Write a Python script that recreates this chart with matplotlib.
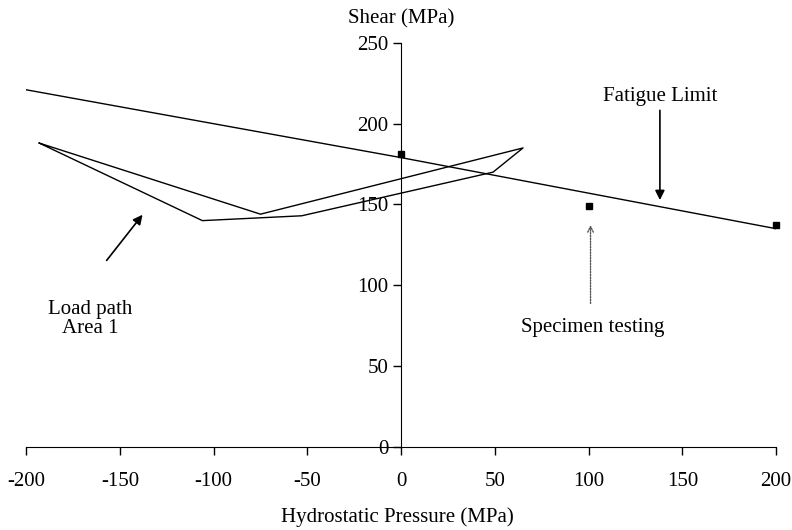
import matplotlib.pyplot as plt

plt.rcParams['font.family'] = ['Liberation Serif', 'DejaVu Serif']
plt.rcParams['axes.unicode_minus'] = False

# fatigue limit line
fatigue_x = [-200, 0, 200]
fatigue_y = [221, 179, 135]

# load path (closed loop)
path_x = [-193, -106, -53, 49, 65, -75, -193]
path_y = [188, 140, 143, 170, 185, 144, 188]

# specimen testing points
spec_x = [0, 100, 200]
spec_y = [181, 149, 137]

xticks = [-200, -150, -100, -50, 0, 50, 100, 150, 200]
yticks = [0, 50, 100, 150, 200, 250]

fig = plt.figure(figsize=(7.92, 5.30), dpi=100)
ax = fig.add_axes([0.033, 0.157, 0.947, 0.762])

ax.plot(fatigue_x, fatigue_y, color='black', lw=1.0)
ax.plot(path_x, path_y, color='black', lw=1.0)
ax.plot(spec_x, spec_y, 's', color='black', ms=4, clip_on=False)

ax.set_xlim(-200, 200)
ax.set_ylim(0, 250)
ax.spines['left'].set_position(('data', 0))
ax.spines['bottom'].set_position(('data', 0))
ax.spines['top'].set_visible(False)
ax.spines['right'].set_visible(False)
ax.set_xticks(xticks)
ax.set_yticks(yticks)
ax.tick_params(axis='both', direction='out', length=6, width=1, labelsize=15)
ax.tick_params(axis='x', pad=12)
ax.tick_params(axis='y', pad=3)

# axis titles
fig.text(0.507, 0.965, 'Shear (MPa)', ha='center', va='center', fontsize=15)
fig.text(0.502, 0.025, 'Hydrostatic Pressure (MPa)', ha='center', va='center', fontsize=15)

# annotations
ax.annotate('', xy=(-137, 145), xytext=(-158, 114),
            arrowprops=dict(arrowstyle='-|>', color='black', lw=1.2, mutation_scale=14))
ax.text(-166, 79, 'Load path\nArea 1', ha='center', va='center', fontsize=15, linespacing=1.0)

ax.annotate('', xy=(138, 151), xytext=(138, 210),
            arrowprops=dict(arrowstyle='-|>', color='black', lw=1.2, mutation_scale=14))
ax.text(138, 217, 'Fatigue Limit', ha='center', va='center', fontsize=15)

ax.annotate('', xy=(101, 139), xytext=(101, 87),
            arrowprops=dict(arrowstyle='->', color='#555555', lw=1.0, ls=(0, (1, 1)), mutation_scale=10))
ax.text(102, 74, 'Specimen testing', ha='center', va='center', fontsize=15)

fig.savefig('out.png', dpi=100)
